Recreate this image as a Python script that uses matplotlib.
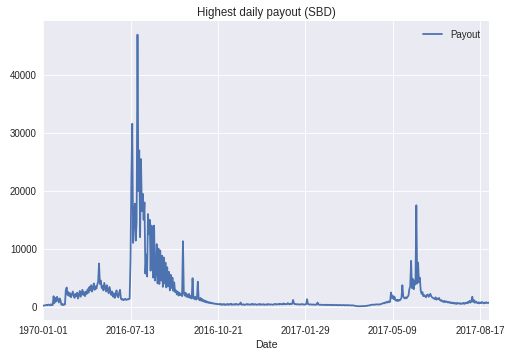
import matplotlib
matplotlib.use("Agg")
import matplotlib.pyplot as plt
import pandas as pd

# daily highest payout (SBD), one value per day from 2016-04-04
payout_start = "2016-04-04"

# before the July 2016 surge
payout_spring = [150, 200, 180, 250, 300, 220, 350, 280, 200, 400, 300, 250,
                 1800, 600, 1500, 900, 1700, 1200, 700, 1400, 1000,
                 300, 450, 250, 400, 350,
                 2900, 3300, 2000, 2500, 1800, 2300, 1600, 2100, 2600, 1900, 1500, 2200, 1800,
                 2400, 1400, 2000, 2700, 1700, 2300, 2900, 2000, 2500, 1800, 2600, 2200,
                 3000, 2400, 3400, 2800, 3700, 2600, 3200, 4000, 2900, 3500, 3100, 3800, 4300,
                 7450,
                 3900, 4500, 3200, 3600, 2800, 4100, 3300, 2600, 3700, 2900, 2300, 3400, 2700,
                 2000, 2600, 1700, 2300, 1500, 2100, 2800, 1800, 1600, 2400, 2900,
                 1400, 1200, 1300, 1100, 1250, 1350, 1150, 1200, 1300, 1250, 1400]

# July - October 2016
payout_summer = [8000, 22000, 31600, 11000, 15500, 17800, 11400, 14500, 47000, 20000,
                 27000, 12000, 25500, 16500, 19500, 15000, 18000, 5700, 9000, 5200,
                 16000, 12500, 15000, 6200, 14000, 13500, 5000, 14000, 4500, 6000,
                 10800, 4000, 10000, 3900, 9700, 4500, 8800, 3400, 8500, 4000,
                 7600, 3300, 6800, 3500, 6000, 2800, 5500, 3200, 5000, 2700,
                 4200, 2500, 2800, 2100, 2600, 1900, 2400, 2000, 2200, 1800,
                 11300, 2300, 1900, 2400, 1700, 2100, 1600, 2200, 1500, 1800,
                 1400, 4900, 1500, 1300, 1700, 1200, 1400, 4300, 1300, 1100,
                 1500, 1000, 1300, 900, 1100, 800, 1000, 700, 850, 650,
                 750, 600, 700, 550, 600, 500, 550, 450, 500, 400, 450]

# quiet period, Oct 2016 - Apr 2017
payout_quiet = [420, 350, 480, 300, 400, 330, 450, 280, 380, 320, 460, 300, 410, 350, 500,
                290, 390, 340, 430, 310, 470, 360, 300, 420, 380, 700, 350, 300, 410, 330,
                290, 380, 450, 320, 400, 360, 300, 420, 340, 480, 310, 370, 430, 290, 350,
                400, 330, 460, 300, 380, 350, 420, 290, 370, 330, 400, 310, 450, 360, 320,
                390, 340, 300, 420, 370, 480, 330, 400, 450, 350, 500, 380, 420, 360, 550,
                400, 470, 380, 430, 600, 450, 380, 500, 420, 480, 1150, 520, 400, 450, 380,
                420, 360, 400, 330, 380, 450, 350, 400, 320, 380, 430, 1270, 450, 380, 330,
                400, 360, 310, 380, 340, 300, 360, 320, 700, 380, 300, 340, 280, 320, 300,
                260, 310, 280, 330, 250, 300, 270, 320, 240, 290, 260, 310, 230, 280, 250,
                300, 220, 270, 240, 290, 210, 260, 230, 280, 200, 250, 220, 270, 190, 240,
                210, 230, 180, 220, 200,
                150, 120, 90, 70, 60, 80, 50, 70, 60, 90, 70, 100, 80, 120, 110, 150, 200, 180,
                250, 300, 280, 350, 320, 300, 380, 340, 400, 360, 330, 420, 380, 450, 500, 600, 550, 700]

# May - August 2017
payout_2017 = [650, 800, 700, 900, 750, 850,
               2430, 1500, 1900, 1300, 1700,
               1100, 1000, 1200, 950, 1150, 1050, 1250,
               1500, 3700, 1800,
               1500, 1400, 1600, 1450, 1700, 1900,
               3000, 3500, 7900, 3200, 4800, 3000, 4500,
               3800, 17500, 4000, 7600, 4200, 5000,
               2800, 2200, 2500, 1800, 2000,
               1800, 1600, 2000, 2100, 1700, 1900, 2200, 1800, 1600,
               1500, 1400, 1300, 1600, 1200, 1400, 1300, 1500, 1100,
               1000, 1100, 900, 800, 1000, 750, 900, 850, 700, 800, 650, 750,
               600, 700, 550, 650, 500, 600, 450, 650, 550, 500, 600, 450, 550, 500, 650, 450, 600, 700, 550,
               800, 650, 1000, 700, 900, 1700, 800, 1100, 650, 900, 700,
               600, 750, 550, 700, 600, 800, 650, 550, 700, 600, 750, 650, 600, 700]

tick_dates = ["2016-04-04", "2016-07-13", "2016-10-21", "2017-01-29", "2017-05-09", "2017-08-17"]
tick_labels = ["1970-01-01", "2016-07-13", "2016-10-21", "2017-01-29", "2017-05-09", "2017-08-17"]

payout = payout_spring + payout_summer + payout_quiet + payout_2017
dates = pd.date_range(payout_start, periods=len(payout), freq="D")

plt.style.use("seaborn-v0_8")
plt.rcParams["font.family"] = ["Liberation Sans", "DejaVu Sans"]
plt.rcParams["xtick.labelsize"] = 11
plt.rcParams["ytick.labelsize"] = 11
plt.rcParams["axes.titlesize"] = 13
plt.rcParams["axes.labelsize"] = 12
plt.rcParams["legend.fontsize"] = 11

fig, ax = plt.subplots(figsize=(513 / 64, 357 / 64), dpi=64)
fig.subplots_adjust(left=0.084, right=0.953, top=0.941, bottom=0.104)

ax.plot(dates, payout, color="#4C72B0", linewidth=2.0, label="Payout")
ax.set_xlim(dates[0], dates[-1])
ax.set_xticks(pd.to_datetime(tick_dates))
ax.set_xticklabels(tick_labels)
ax.set_title("Highest daily payout (SBD)")
ax.set_xlabel("Date")
ax.legend(loc="upper right")

fig.savefig("out.png", dpi=64)
